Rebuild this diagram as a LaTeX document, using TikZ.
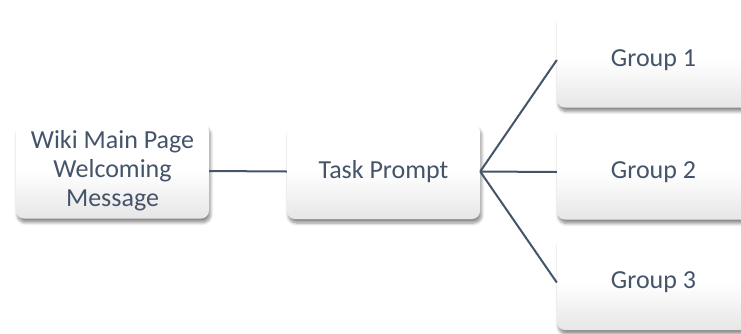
\documentclass[tikz,border=0pt]{standalone}
\usepackage{fontspec}
\setmainfont{Carlito}
\usetikzlibrary{shadows.blur}
\definecolor{slate}{HTML}{44546A}
\definecolor{boxbot}{HTML}{E6E6E6}
\tikzset{
  box/.style={rectangle, rounded corners=8pt, minimum width=193pt, minimum height=95pt,
    top color=white, bottom color=boxbot, middle color=white, draw=none,
    text=slate, align=center, font=\fontsize{26}{29}\selectfont,
    blur shadow={shadow xshift=1.5pt, shadow yshift=-4pt, shadow blur steps=6, shadow opacity=45, shadow blur radius=3pt}},
  conn/.style={draw=slate, line width=2pt}
}
\begin{document}
\begin{tikzpicture}[x=1pt,y=-1pt]
\useasboundingbox (0,0) rectangle (741,333);
\clip (0,0) rectangle (741,333);
\node[box] (wiki) at (112.5,171) {Wiki Main Page\\Welcoming\\Message};
\node[box] (task) at (383.5,171.5) {Task Prompt};
\node[box] (g1) at (653.5,60) {Group 1};
\node[box] (g2) at (653.5,172) {Group 2};
\node[box] (g3) at (653.5,282.5) {Group 3};
\draw[conn] (wiki.east) -- (task.west);
\draw[conn] (task.east) -- (g1.west);
\draw[conn] (task.east) -- (g2.west);
\draw[conn] (task.east) -- (g3.west);
\end{tikzpicture}
\end{document}
